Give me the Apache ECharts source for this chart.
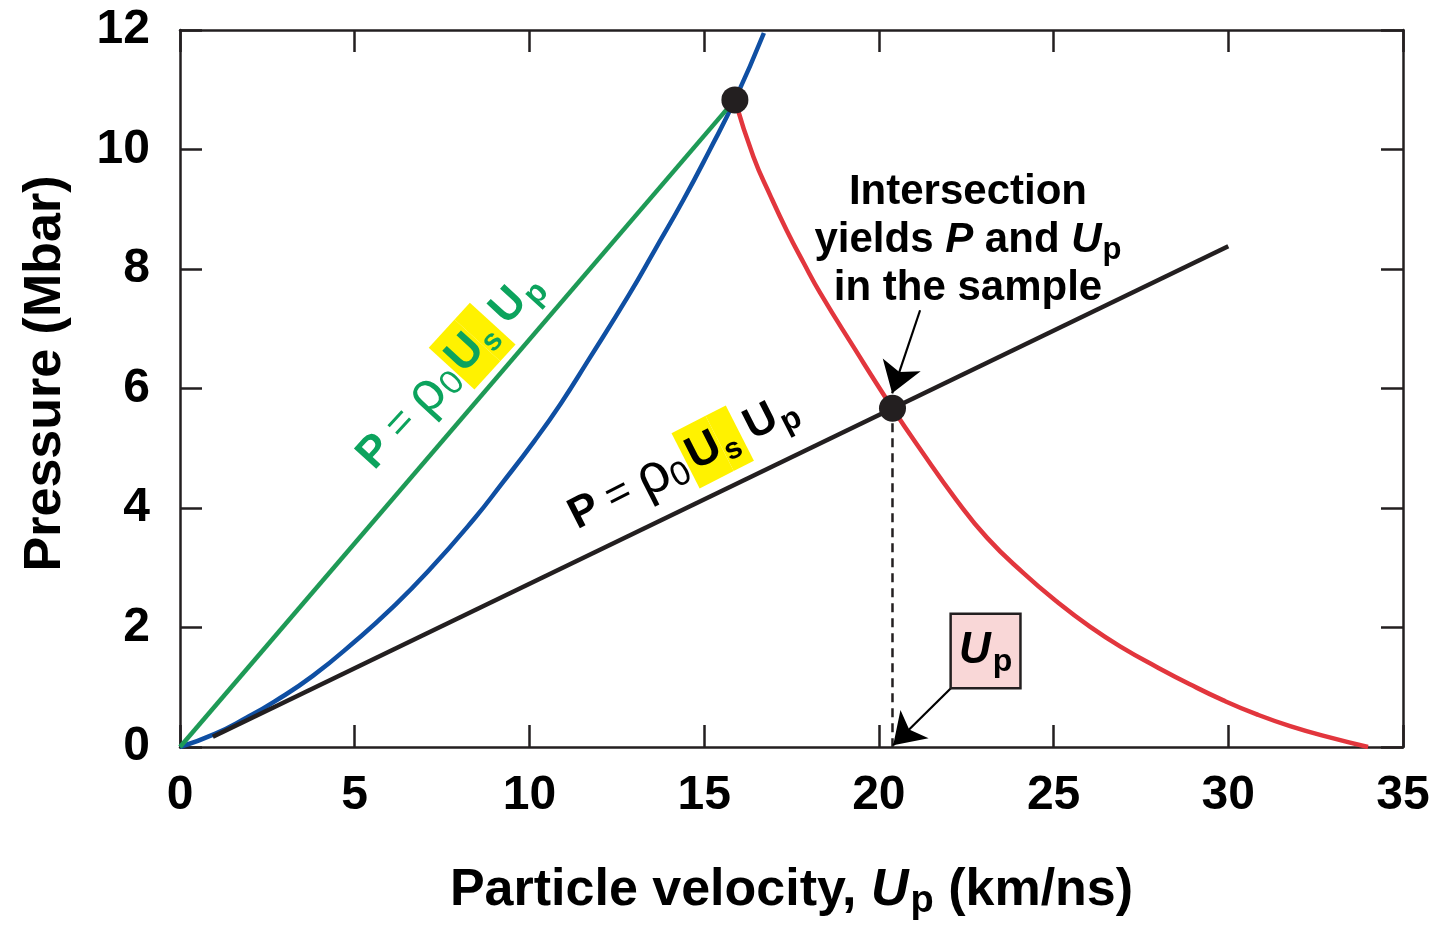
<!DOCTYPE html>
<html>
<head>
<meta charset="utf-8">
<title>Impedance match</title>
<script src="https://cdn.jsdelivr.net/npm/echarts@6/dist/echarts.min.js"></script>
<style>
  html, body { margin: 0; padding: 0; background: #fff; }
  #chart { width: 1439px; height: 927px; }
</style>
</head>
<body>
<div id="chart"></div>
<script>
// values: x = particle velocity (km/ns), y = pressure (Mbar)
const standardRayleigh = [[0, 0], [15.88, 10.83]];
const standardHugoniot = [
  [0, 0], [1.0, 0.22], [1.9, 0.49], [2.7, 0.76], [3.8, 1.19], [5.07, 1.8], [6.0, 2.29],
  [7.1, 2.94], [8.42, 3.82], [9.2, 4.4], [10.14, 5.12], [10.9, 5.75], [11.66, 6.45],
  [12.83, 7.55], [13.6, 8.33], [14.4, 9.15], [15.15, 9.98], [15.88, 10.83], [16.71, 11.95]
];
const standardRelease = [
  [15.88, 10.83], [16.41, 9.88], [16.9, 9.22], [17.36, 8.65], [17.85, 8.1], [18.32, 7.6],
  [19.27, 6.7], [20.39, 5.67], [21.2, 4.97], [22.2, 4.15], [23.1, 3.5], [24.14, 2.91],
  [25.1, 2.43], [26.05, 2.01], [27.0, 1.65], [27.95, 1.34], [28.9, 1.05], [29.86, 0.78],
  [30.8, 0.55], [31.77, 0.35], [32.9, 0.16], [34.0, 0.0]
];
const sampleRayleigh = [[0.94, 0.17], [30.0, 8.38]];
const matchPoints = [[15.88, 10.83], [20.39, 5.67]];
const sampleUpDrop = [[20.39, 5.67], [20.39, 0]];
const arrowLines = [
  [[21.18, 7.31], [20.38, 5.92]],
  [[22.09, 1.0], [20.41, 0.03]]
];

const xRange = [0, 35], xStep = 5;
const yRange = [0, 12], yStep = 2;

// where the annotations sit, in data units
const greenLabelAt = [7.72, 6.3];
const blackLabelAt = [14.4, 4.77];
const noteAt = [22.55, 8.47];
const upBoxAt = [22.09, 2.21];

const FONT = '"Liberation Sans", Arial, Helvetica, sans-serif';
const INK = '#231f20';
const GREEN = '#1e9a56';
const GREEN_TEXT = '#0ca35d';
const BLUE = '#0f4fa3';
const RED = '#e2363d';
const YELLOW = '#fff200';

const chart = echarts.init(document.getElementById('chart'));

const frameLine = { show: true, onZero: false, lineStyle: { color: INK, width: 2.5 } };
const frameTick = { show: true, inside: true, length: 22, lineStyle: { color: INK, width: 2.5 } };
const tickLabel = { fontSize: 48, fontWeight: 'bold', color: '#000', fontFamily: FONT };

const option = {
  animation: false,
  backgroundColor: '#fff',
  grid: { left: 180, right: 36, top: 30, bottom: 180, containLabel: false, outerBoundsMode: 'none' },
  xAxis: [
    {
      type: 'value', min: xRange[0], max: xRange[1], interval: xStep, position: 'bottom',
      axisLine: frameLine, axisTick: frameTick, splitLine: { show: false },
      axisLabel: Object.assign({ margin: 25 }, tickLabel),
      name: 'Particle velocity, {i|U}{s|p} (km/ns)',
      nameLocation: 'middle', nameGap: 114,
      nameTextStyle: {
        fontSize: 52, fontWeight: 'bold', color: '#000', fontFamily: FONT,
        rich: {
          i: { fontSize: 52, fontWeight: 'bold', fontStyle: 'italic', color: '#000', fontFamily: FONT, verticalAlign: 'middle' },
          s: { fontSize: 38, fontWeight: 'bold', color: '#000', fontFamily: FONT, padding: [22, 0, 0, 2], verticalAlign: 'middle' }
        }
      }
    },
    {
      type: 'value', min: xRange[0], max: xRange[1], interval: xStep, position: 'top',
      axisLine: frameLine, axisTick: frameTick, axisLabel: { show: false }, splitLine: { show: false }
    }
  ],
  yAxis: [
    {
      type: 'value', min: yRange[0], max: yRange[1], interval: yStep, position: 'left',
      axisLine: frameLine, axisTick: frameTick, splitLine: { show: false },
      axisLabel: Object.assign({ margin: 30, padding: [9, 0, 0, 0] }, tickLabel),
      name: 'Pressure (Mbar)', nameLocation: 'middle', nameGap: 108,
      nameTextStyle: { fontSize: 52, fontWeight: 'bold', color: '#000', fontFamily: FONT, padding: [0, 0, 0, 30] }
    },
    {
      type: 'value', min: yRange[0], max: yRange[1], interval: yStep, position: 'right',
      axisLine: frameLine, axisTick: frameTick, axisLabel: { show: false }, splitLine: { show: false }
    }
  ],
  series: [
    {
      type: 'line', data: standardRayleigh, symbol: 'none',
      lineStyle: { color: GREEN, width: 4.5 }, z: 3
    },
    {
      type: 'line', data: standardHugoniot, symbol: 'none', smooth: 0.5,
      lineStyle: { color: BLUE, width: 4.5 }, z: 2
    },
    {
      type: 'line', data: standardRelease, symbol: 'none', smooth: 0.5,
      lineStyle: { color: RED, width: 4.5 }, z: 2
    },
    {
      type: 'line', data: sampleRayleigh, symbol: 'none',
      lineStyle: { color: INK, width: 4.5 }, z: 4
    },
    {
      type: 'line', data: sampleUpDrop, symbol: 'none',
      lineStyle: { color: INK, width: 2.5, type: [9, 6] }, z: 4
    },
    {
      type: 'lines', coordinateSystem: 'cartesian2d',
      symbol: ['none', 'arrow'], symbolSize: 30,
      lineStyle: { color: '#000', width: 2.2, opacity: 1, curveness: 0 },
      data: arrowLines.map(c => ({ coords: c })), z: 5
    },
    {
      type: 'scatter', data: matchPoints, symbol: 'circle', symbolSize: 27,
      itemStyle: { color: INK, opacity: 1 }, z: 6
    }
  ]
};

chart.setOption(option);

const toPx = p => chart.convertToPixel({ gridIndex: 0 }, p);

function formulaRich(color) {
  const base = { color: color, fontFamily: FONT, verticalAlign: 'middle' };
  return {
    p: Object.assign({ fontSize: 44, fontWeight: 'bold' }, base),
    eq: Object.assign({ fontSize: 42, fontWeight: 'normal', padding: [0, 11, 0, 11] }, base),
    rho: Object.assign({ fontSize: 56, fontWeight: 'normal' }, base),
    sub: Object.assign({ fontSize: 34, fontWeight: 'normal', padding: [22, 1, 0, 0] }, base),
    us: Object.assign({ fontSize: 46, fontWeight: 'bold', backgroundColor: YELLOW, padding: [8, 1, 8, 4] }, base),
    uss: Object.assign({ fontSize: 30, fontWeight: 'bold', backgroundColor: YELLOW, padding: [28, 5, 4, 1] }, base),
    up: Object.assign({ fontSize: 44, fontWeight: 'bold', padding: [0, 0, 0, 8] }, base),
    ups: Object.assign({ fontSize: 32, fontWeight: 'bold', padding: [24, 0, 0, 2] }, base)
  };
}

const formulaText = '{p|P}{eq|=}{rho|ρ}{sub|0}{us|U}{uss|s}{up|U}{ups|p}';

function formulaLabel(at, angleDeg, color) {
  const [x, y] = toPx(at);
  return {
    type: 'text', x: x, y: y, rotation: angleDeg * Math.PI / 180, z: 10,
    style: {
      text: formulaText, rich: formulaRich(color),
      align: 'center', verticalAlign: 'middle',
      fontSize: 44, fontWeight: 'bold', fontFamily: FONT, fill: color
    }
  };
}

const notePx = toPx(noteAt);
const boxPx = toPx(upBoxAt);
const noteBase = { fontSize: 42, fontWeight: 'bold', fontFamily: FONT, color: '#000', lineHeight: 48, verticalAlign: 'middle' };

chart.setOption({
  graphic: [
    formulaLabel(greenLabelAt, 47.5, GREEN_TEXT),
    formulaLabel(blackLabelAt, 27, '#000'),
    {
      type: 'text', x: notePx[0], y: notePx[1], z: 10,
      style: {
        text: 'Intersection\nyields {i|P} and {i|U}{s|p}\nin the sample',
        align: 'center', verticalAlign: 'middle',
        fontSize: 42, fontWeight: 'bold', fontFamily: FONT, fill: '#000', lineHeight: 48,
        rich: {
          i: Object.assign({}, noteBase, { fontStyle: 'italic' }),
          s: Object.assign({}, noteBase, { fontSize: 31, padding: [20, 0, 0, 1] })
        }
      }
    },
    {
      type: 'text', x: boxPx[0], y: boxPx[1], z: 10,
      style: {
        text: '{i|U}{s|p}',
        align: 'left', verticalAlign: 'top',
        backgroundColor: '#f9d7d7', borderColor: INK, borderWidth: 2.5,
        padding: [9, 7, 9, 7],
        rich: {
          i: { fontSize: 44, fontWeight: 'bold', fontStyle: 'italic', fontFamily: FONT, color: '#000', verticalAlign: 'middle' },
          s: { fontSize: 32, fontWeight: 'bold', fontFamily: FONT, color: '#000', padding: [22, 0, 0, 2], verticalAlign: 'middle' }
        }
      }
    }
  ]
});
</script>
</body>
</html>
